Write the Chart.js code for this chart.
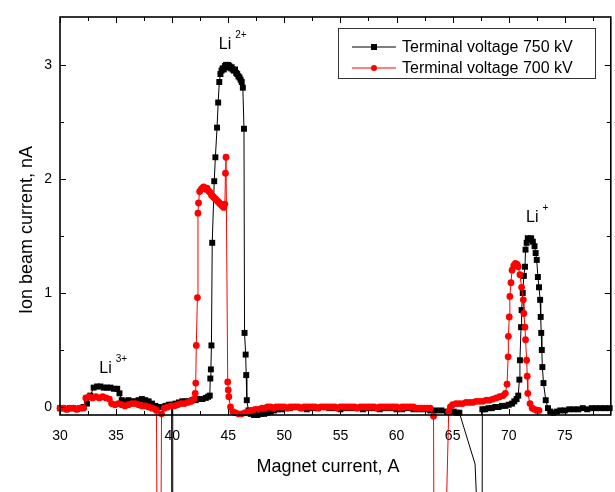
<!DOCTYPE html>
<html>
<head>
<meta charset="utf-8">
<script src="https://cdn.jsdelivr.net/npm/chart.js@4.4.0/dist/chart.umd.min.js"></script>
<style>
  body { margin: 0; background: #fff; }
  #wrap { width: 615px; height: 492px; }
</style>
</head>
<body>
<div id="wrap"><canvas id="ionChart"></canvas></div>
<script>
"use strict";
// terminal voltage 750 kV (black squares)
var magnet750 = [30.0,30.3,30.6,30.9,31.2,31.5,31.8,32.1,32.4,32.7,33.0,33.3,33.6,33.9,34.2,34.5,34.8,35.1,35.3,35.5,35.8,36.1,36.4,36.7,37.0,37.3,37.6,37.9,38.2,38.5,38.8,39.1,39.4,39.7,39.95,40.0,40.05,40.3,40.6,40.9,41.2,41.5,41.8,42.1,42.4,42.7,43.0,43.2,43.35,43.4,43.45,43.5,43.57,43.75,43.85,44.0,44.1,44.2,44.3,44.4,44.5,44.6,44.7,44.8,44.9,45.0,45.1,45.2,45.3,45.4,45.5,45.6,45.7,45.8,45.9,46.0,46.1,46.2,46.3,46.4,46.45,46.55,46.6,46.65,46.8,47.0,47.3,47.6,47.9,48.2,48.5,48.8,49.1,49.4,49.7,50.0,50.5,51.0,51.5,52.0,52.5,53.0,53.5,54.0,54.5,55.0,55.5,56.0,56.5,57.0,57.5,58.0,58.5,59.0,59.5,60.0,60.5,61.0,61.5,62.0,62.5,63.0,63.5,64.0,64.5,64.8,65.1,65.4,65.6,67.0,67.3,67.6,67.65,67.9,68.2,68.5,68.8,69.1,69.4,69.7,70.0,70.3,70.5,70.7,70.85,70.95,71.0,71.1,71.15,71.25,71.35,71.45,71.5,71.6,71.7,71.85,72.0,72.15,72.3,72.4,72.5,72.6,72.7,72.8,72.85,72.9,72.95,73.0,73.1,73.3,73.5,73.7,74.0,74.3,74.6,75.0,75.4,75.8,76.2,76.6,77.0,77.4,77.8,78.2,78.6,79.0];
var beam750 = [-0.01,-0.01,-0.02,-0.01,-0.01,-0.02,-0.01,0.0,0.03,0.1,0.17,0.18,0.18,0.17,0.17,0.17,0.16,0.16,0.12,0.06,0.05,0.06,0.05,0.05,0.06,0.07,0.06,0.05,0.03,0.01,0.0,0.0,0.01,0.02,0.02,-5,0.02,0.03,0.04,0.05,0.05,0.05,0.06,0.06,0.07,0.07,0.08,0.09,0.1,0.25,0.33,0.54,1.44,1.98,2.19,2.45,2.67,2.85,2.92,2.95,2.97,2.96,2.99,3.0,2.98,3.0,2.99,2.97,2.98,2.96,2.95,2.96,2.93,2.92,2.9,2.89,2.87,2.85,2.8,2.44,0.65,0.46,0.28,0.06,-0.03,-0.06,-0.07,-0.07,-0.06,-0.06,-0.05,-0.04,-0.03,-0.02,-0.02,-0.01,-0.01,0.0,-0.01,-0.02,-0.01,-0.01,0.0,-0.01,-0.01,-0.02,-0.01,-0.01,-0.01,-0.02,-0.01,-0.01,-0.02,-0.01,-0.01,-0.02,-0.02,-0.01,-0.02,-0.02,-0.02,-0.03,-0.03,-0.03,-0.04,-0.04,-0.04,-0.05,-0.05,-0.5,-1.2,-3,-0.02,-0.02,-0.01,-0.01,0.0,0.0,0.01,0.01,0.02,0.03,0.05,0.07,0.1,0.24,0.41,0.7,0.85,1.0,1.15,1.23,1.38,1.44,1.48,1.47,1.48,1.45,1.41,1.35,1.29,1.14,1.05,0.94,0.79,0.65,0.5,0.35,0.21,0.06,-0.01,-0.04,-0.05,-0.04,-0.03,-0.03,-0.02,-0.02,-0.02,-0.01,-0.02,-0.01,-0.01,-0.01,-0.01,-0.01];

// terminal voltage 700 kV (red circles)
var magnet700 = [30.0,30.3,30.6,30.9,31.2,31.5,31.8,32.1,32.3,32.6,32.9,33.2,33.5,33.8,34.1,34.4,34.6,34.9,35.2,35.5,35.8,36.1,36.4,36.7,37.0,37.3,37.6,37.9,38.2,38.5,38.6,38.8,39.05,39.3,39.6,39.9,40.2,40.5,40.8,41.1,41.4,41.7,41.95,42.05,42.1,42.15,42.25,42.3,42.35,42.45,42.6,42.7,42.8,42.9,43.0,43.1,43.2,43.3,43.4,43.5,43.6,43.7,43.8,43.9,44.0,44.1,44.2,44.3,44.4,44.5,44.6,44.7,44.75,44.8,44.95,45.0,45.05,45.2,45.4,45.6,45.9,46.2,46.5,46.8,47.1,47.4,47.7,48.0,48.25,48.5,48.75,49.0,49.25,49.5,49.75,50.0,50.25,50.5,50.75,51.0,51.25,51.5,51.75,52.0,52.25,52.5,52.75,53.0,53.25,53.5,53.75,54.0,54.25,54.5,54.75,55.0,55.25,55.5,55.75,56.0,56.25,56.5,56.75,57.0,57.25,57.5,57.75,58.0,58.25,58.5,58.75,59.0,59.25,59.5,59.75,60.0,60.25,60.5,60.75,61.0,61.25,61.5,61.75,62.0,62.25,62.5,62.75,63.0,63.3,63.45,64.65,64.8,65.0,65.3,65.6,65.9,66.2,66.5,66.8,67.1,67.4,67.7,68.0,68.3,68.6,68.9,69.2,69.5,69.7,69.85,69.95,69.97,70.05,70.1,70.2,70.3,70.45,70.6,70.75,70.85,71.0,71.15,71.3,71.35,71.45,71.5,71.6,71.65,71.7,71.9,72.1,72.3,72.5,72.7];
var beam700 = [-0.01,-0.01,-0.02,-0.01,-0.01,-0.02,-0.01,-0.01,0.08,0.09,0.08,0.09,0.08,0.09,0.08,0.07,0.03,0.02,0.03,0.02,0.01,0.02,0.03,0.03,0.02,0.01,0.01,0.0,-0.01,-0.02,-0.03,-5,-0.06,-0.01,0.0,0.01,0.01,0.02,0.03,0.03,0.04,0.05,0.07,0.12,0.21,0.54,0.96,1.7,1.79,1.89,1.91,1.92,1.93,1.92,1.91,1.92,1.9,1.89,1.88,1.86,1.85,1.84,1.83,1.82,1.81,1.8,1.79,1.78,1.77,1.76,1.75,1.78,2.05,2.19,0.22,0.15,0.09,0.0,-0.04,-0.05,-0.06,-0.06,-0.05,-0.04,-0.03,-0.02,-0.02,
	-0.01,-0.01,0.0,0.0,-0.01,0.0,0.0,0.0,0.0,-0.01,
	0.0,0.0,0.0,0.0,-0.01,0.0,0.0,0.0,0.0,0.0,
	-0.01,0.0,0.0,0.0,0.0,0.0,0.0,-0.01,0.0,0.0,
	0.0,0.0,0.0,0.0,-0.01,0.0,0.0,0.0,0.0,0.0,
	0.0,-0.01,0.0,0.0,0.0,0.0,0.0,0.0,0.0,-0.01,
	0.0,0.0,0.0,0.0,0.0,-0.01,-0.01,-0.01,-0.01,-0.01,
	-0.01,
	-0.08,-5,-0.04,0.0,0.02,0.03,0.03,0.03,0.04,0.04,0.04,0.05,0.05,0.05,0.06,0.06,0.07,0.08,0.09,0.1,0.12,0.2,0.44,0.62,0.79,0.97,1.09,1.2,1.24,1.26,1.25,1.23,1.16,1.05,0.94,0.82,0.7,0.59,0.41,0.27,0.12,0.03,-0.01,-0.02,-0.03,-0.03];

var seriesLabels = ["Terminal voltage 750 kV", "Terminal voltage 700 kV"];
var seriesColors = ["#000000", "#ff0000"];
var xTitle = "Magnet current, A";
var yTitle = "Ion beam current, nA";
var peakNames = ["Li", "Li", "Li"];
var peakCharges = ["3+", "2+", "+"];

function toPoints(xs, ys) {
	var pts = [];
	for (var i = 0; i < xs.length; i++) {
		pts.push({ x: xs[i], y: ys[i] });
	}
	return pts;
}

var FONT = "Arial, 'Liberation Sans', sans-serif";
Chart.defaults.font.family = FONT;
Chart.defaults.color = "#000";

// label spots for the peak names, in data units
var peakSpots = [
	{ x: 33.5, y: 0.34 },
	{ x: 44.15, y: 3.18 },
	{ x: 71.55, y: 1.66 }
];

// frame with inward ticks, titles, peak names and legend
var framePlugin = {
	id: "frame",
	afterDraw: function(chart) {
		var ctx = chart.ctx, a = chart.chartArea;
		var xs = chart.scales.x, ys = chart.scales.y;
		ctx.save();
		ctx.strokeStyle = "#000";
		ctx.lineWidth = 1;
		xs.ticks.forEach(function(t) {
			var px = Math.round(xs.getPixelForValue(t.value)) + 0.5;
			var len = (t.value % 5 === 0) ? 6 : 4;
			ctx.beginPath();
			ctx.moveTo(px, a.bottom); ctx.lineTo(px, a.bottom - len);
			ctx.moveTo(px, a.top); ctx.lineTo(px, a.top + len);
			ctx.stroke();
		});
		ys.ticks.forEach(function(t) {
			var py = Math.round(ys.getPixelForValue(t.value)) + 0.5;
			var len = (t.value % 1 === 0) ? 6 : 4;
			ctx.beginPath();
			ctx.moveTo(a.left, py); ctx.lineTo(a.left + len, py);
			ctx.moveTo(a.right, py); ctx.lineTo(a.right - len, py);
			ctx.stroke();
		});
		ctx.lineWidth = 1.6;
		ctx.strokeRect(a.left, a.top, a.right - a.left, a.bottom - a.top);

		// axis titles
		ctx.fillStyle = "#000";
		ctx.font = "18px " + FONT;
		ctx.textAlign = "center";
		ctx.textBaseline = "middle";
		ctx.fillText(xTitle, 328, 467);
		ctx.save();
		ctx.translate(27, 230);
		ctx.rotate(-Math.PI / 2);
		ctx.fillText(yTitle, 0, 0);
		ctx.restore();

		// peak names
		ctx.textAlign = "left";
		peakSpots.forEach(function(p, i) {
			var px = xs.getPixelForValue(p.x), py = ys.getPixelForValue(p.y);
			ctx.font = "16px " + FONT;
			ctx.fillText(peakNames[i], px, py);
			var w = ctx.measureText(peakNames[i]).width;
			ctx.font = "10px " + FONT;
			ctx.fillText(peakCharges[i], px + w + 4, py - 9);
		});

		// legend box
		var lx = 338, ly = 28, lw = 257, lh = 50;
		ctx.fillStyle = "#fff";
		ctx.fillRect(lx, ly, lw, lh);
		ctx.strokeStyle = "#333";
		ctx.lineWidth = 1;
		ctx.strokeRect(lx + 0.5, ly + 0.5, lw, lh);
		[0, 1].forEach(function(i) {
			var cy = ly + 19 + i * 21;
			ctx.strokeStyle = seriesColors[i];
			ctx.fillStyle = seriesColors[i];
			ctx.lineWidth = 1;
			ctx.beginPath();
			ctx.moveTo(352, cy); ctx.lineTo(396, cy);
			ctx.stroke();
			if (i === 0) {
				ctx.fillRect(371, cy - 3, 6, 6);
			} else {
				ctx.beginPath();
				ctx.arc(374, cy, 3, 0, Math.PI * 2);
				ctx.fill();
			}
			ctx.fillStyle = "#000";
			ctx.font = "16px " + FONT;
			ctx.fillText(seriesLabels[i], 402, cy + 1);
		});
		ctx.restore();
	}
};

var ctx = document.getElementById("ionChart");
var ionChart = new Chart(ctx, {
	type: "scatter",
	data: {
		datasets: [
			{
				label: seriesLabels[0],
				data: toPoints(magnet750, beam750),
				showLine: true,
				borderColor: seriesColors[0],
				backgroundColor: seriesColors[0],
				borderWidth: 1,
				pointStyle: "rect",
				pointRadius: 4.2,
				pointBorderWidth: 0,
				clip: false,
				order: 1
			},
			{
				label: seriesLabels[1],
				data: toPoints(magnet700, beam700),
				showLine: true,
				borderColor: seriesColors[1],
				backgroundColor: seriesColors[1],
				borderWidth: 1,
				pointStyle: "circle",
				pointRadius: 3.4,
				pointBorderWidth: 0,
				clip: false,
				order: 0
			}
		]
	},
	options: {
		responsive: true,
		maintainAspectRatio: false,
		animation: false,
		layout: { padding: { top: 17, right: 3, left: 0, bottom: 0 } },
		plugins: {
			legend: { display: false },
			tooltip: { enabled: false }
		},
		scales: {
			x: {
				type: "linear",
				min: 30,
				max: 79.1,
				grid: { display: false, drawTicks: false },
				border: { display: false },
				ticks: {
					stepSize: 2.5,
					includeBounds: false,
					autoSkip: false,
					maxRotation: 0,
					padding: 13,
					font: { size: 14 },
					color: "#000",
					callback: function(v) { return (v % 5 === 0) ? v : ""; }
				},
				afterFit: function(s) { s.height = 77; }
			},
			y: {
				type: "linear",
				min: -0.07,
				max: 3.42,
				grid: { display: false, drawTicks: false },
				border: { display: false },
				ticks: {
					stepSize: 0.5,
					includeBounds: false,
					padding: 8,
					font: { size: 14 },
					color: "#000",
					callback: function(v) { return (v % 1 === 0) ? v : ""; }
				},
				afterFit: function(s) { s.width = 60; }
			}
		}
	},
	plugins: [framePlugin]
});
</script>
</body>
</html>
